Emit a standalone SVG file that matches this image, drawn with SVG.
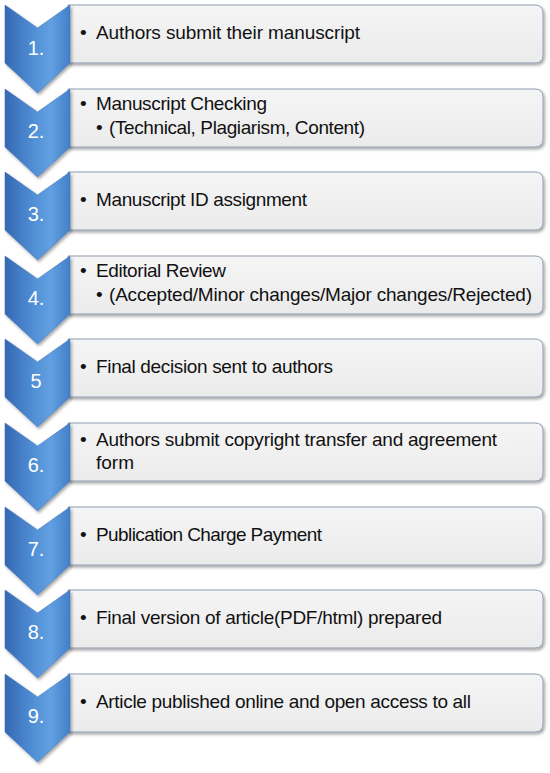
<svg xmlns="http://www.w3.org/2000/svg" width="550" height="773" viewBox="0 0 550 773">
<defs>
<linearGradient id="chev" x1="0" y1="0" x2="1" y2="0">
<stop offset="0" stop-color="#3468b3"/>
<stop offset="0.45" stop-color="#5290d6"/>
<stop offset="0.7" stop-color="#62a0e2"/>
<stop offset="1" stop-color="#437fc8"/>
</linearGradient>
<linearGradient id="boxg" x1="0" y1="0" x2="0" y2="1">
<stop offset="0" stop-color="#f5f5f6"/>
<stop offset="1" stop-color="#ebebec"/>
</linearGradient>
<filter id="sh" x="-10%" y="-10%" width="130%" height="140%">
<feDropShadow dx="1.5" dy="2" stdDeviation="1.5" flood-color="#000" flood-opacity="0.35"/>
</filter>
<path id="chevShape" d="M5,0 L37.5,23 L70,0 L70,58 L37.5,88 L5,58 Z"/>
<path id="boxShape" d="M68,0 H535 Q543,0 543,8 V50 Q543,58 535,58 H68 Z"/>
</defs>
<style>
.box{fill:url(#boxg);stroke:#8f9db0;stroke-width:1;filter:url(#sh)}
.chev{fill:url(#chev);stroke:#3a6cb0;stroke-width:0.5;filter:url(#sh)}
.num{font-family:"Liberation Sans",Arial,sans-serif;font-size:20px;fill:#ffffff;text-anchor:middle}
.t{font-family:"Liberation Sans",Arial,sans-serif;font-size:19px;fill:#111111}
</style>
<rect width="550" height="773" fill="#ffffff"/>
<g id="connectors"/>
<g id="step1" transform="translate(0,5)">
<use href="#boxShape" class="box"/><use href="#chevShape" class="chev"/>
<text class="num" x="36" y="50">1.</text>
<text class="t" x="80" y="34">•</text><text class="t" x="96" y="34" textLength="264">Authors submit their manuscript</text>
</g>
<g id="step2" transform="translate(0,89)">
<use href="#boxShape" class="box"/><use href="#chevShape" class="chev"/>
<text class="num" x="36" y="49">2.</text>
<text class="t" x="80" y="21">•</text><text class="t" x="96" y="21" textLength="171">Manuscript Checking</text>
<text class="t" x="96" y="45">•</text><text class="t" x="109" y="45" textLength="256">(Technical, Plagiarism, Content)</text>
</g>
<g id="step3" transform="translate(0,172)">
<use href="#boxShape" class="box"/><use href="#chevShape" class="chev"/>
<text class="num" x="36" y="49">3.</text>
<text class="t" x="80" y="34">•</text><text class="t" x="96" y="34" textLength="211">Manuscript ID assignment</text>
</g>
<g id="step4" transform="translate(0,256)">
<use href="#boxShape" class="box"/><use href="#chevShape" class="chev"/>
<text class="num" x="36" y="49">4.</text>
<text class="t" x="80" y="21">•</text><text class="t" x="96" y="21" textLength="130">Editorial Review</text>
<text class="t" x="96" y="45">•</text><text class="t" x="109" y="45" textLength="423">(Accepted/Minor changes/Major changes/Rejected)</text>
</g>
<g id="step5" transform="translate(0,339)">
<use href="#boxShape" class="box"/><use href="#chevShape" class="chev"/>
<text class="num" x="36" y="49">5</text>
<text class="t" x="80" y="34">•</text><text class="t" x="96" y="34" textLength="237">Final decision sent to authors</text>
</g>
<g id="step6" transform="translate(0,423)">
<use href="#boxShape" class="box"/><use href="#chevShape" class="chev"/>
<text class="num" x="36" y="49">6.</text>
<text class="t" x="80" y="23">•</text><text class="t" x="96" y="23" textLength="401">Authors submit copyright transfer and agreement</text>
<text class="t" x="96" y="46">form</text>
</g>
<g id="step7" transform="translate(0,507)">
<use href="#boxShape" class="box"/><use href="#chevShape" class="chev"/>
<text class="num" x="36" y="49">7.</text>
<text class="t" x="80" y="34">•</text><text class="t" x="96" y="34" textLength="226">Publication Charge Payment</text>
</g>
<g id="step8" transform="translate(0,590)">
<use href="#boxShape" class="box"/><use href="#chevShape" class="chev"/>
<text class="num" x="36" y="49">8.</text>
<text class="t" x="80" y="34">•</text><text class="t" x="96" y="34" textLength="346">Final version of article(PDF/html) prepared</text>
</g>
<g id="step9" transform="translate(0,674)">
<use href="#boxShape" class="box"/><use href="#chevShape" class="chev"/>
<text class="num" x="36" y="49">9.</text>
<text class="t" x="80" y="34">•</text><text class="t" x="96" y="34" textLength="375">Article published online and open access to all</text>
</g>
</svg>
